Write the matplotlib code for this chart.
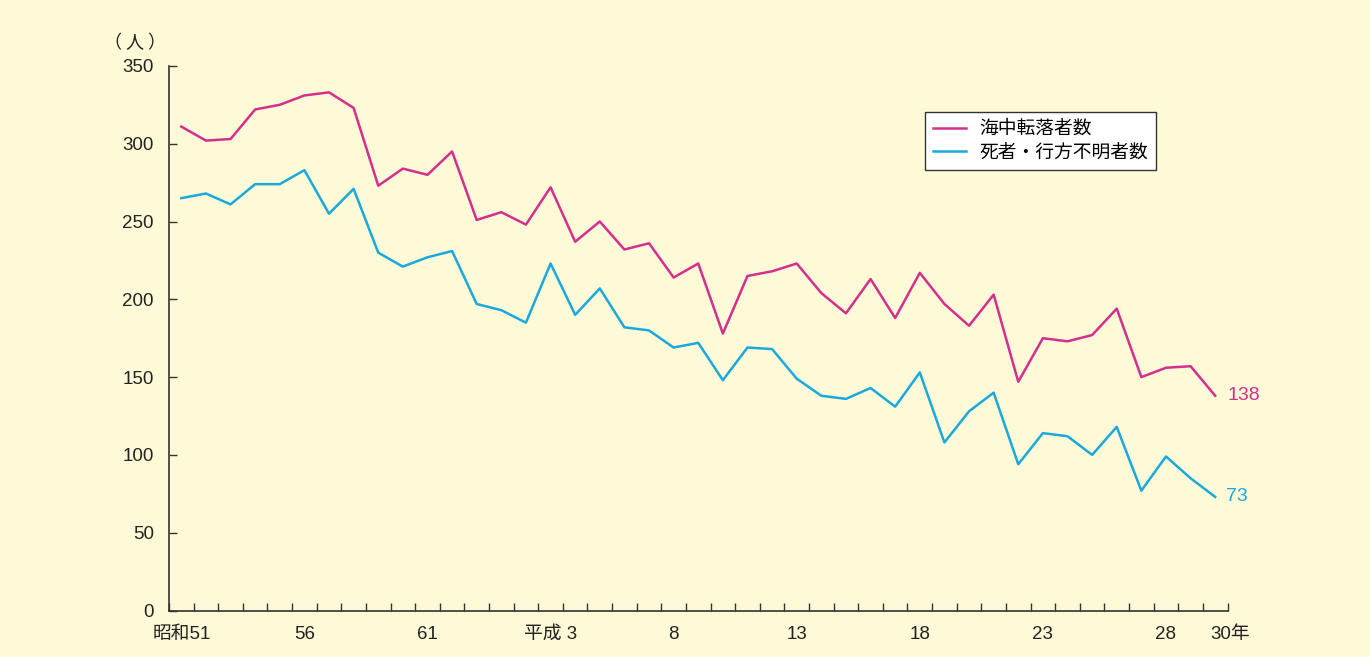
import matplotlib.pyplot as plt
import matplotlib.transforms as mtransforms
import numpy as np

plt.rcParams['font.family'] = ['Liberation Sans', 'Noto Sans CJK JP', 'DejaVu Sans']

# 昭和51年 (1976) - 平成30年 (2018)
years = list(range(1976, 2019))
fell_overboard = [311, 302, 303, 322, 325, 331, 333, 323, 273, 284, 280, 295, 251, 256,
                  248, 272, 237, 250, 232, 236, 214, 223, 178, 215, 218, 223, 204, 191,
                  213, 188, 217, 197, 183, 203, 147, 175, 173, 177, 194, 150, 156, 157, 138]
dead_missing = [265, 268, 261, 274, 274, 283, 255, 271, 230, 221, 227, 231, 197, 193,
                185, 223, 190, 207, 182, 180, 169, 172, 148, 169, 168, 149, 138, 136,
                143, 131, 153, 108, 128, 140, 94, 114, 112, 100, 118, 77, 99, 85, 73]
tick_years = [1976, 1981, 1986, 1991, 1996, 2001, 2006, 2011, 2016, 2018]
tick_labels = ["昭和51", "56", "61", "平成 3", "8", "13", "18", "23", "28", "30年"]

pink = "#D52F8E"
blue = "#19A9DF"
bg = "#FEF9D6"

fig = plt.figure(figsize=(13.7, 6.57), dpi=100, facecolor=bg)
ax = fig.add_axes([169 / 1370, 46.5 / 657, 1058.5 / 1370, 544.6 / 657])
ax.set_facecolor(bg)

x = np.arange(len(years))
ax.plot(x, fell_overboard, color=pink, lw=1.8, label="海中転落者数")
ax.plot(x, dead_missing, color=blue, lw=1.8, label="死者・行方不明者数")

ax.text(x[-1] + 0.5, fell_overboard[-1], str(fell_overboard[-1]), color=pink,
        fontsize=14, va="center", ha="left")
ax.text(x[-1] + 0.45, dead_missing[-1], str(dead_missing[-1]), color=blue,
        fontsize=14, va="center", ha="left")

ax.set_xlim(-0.5, len(years) - 0.5)
ax.set_ylim(0, 350)
ax.set_yticks(range(0, 351, 50))

pos = [years.index(y) for y in tick_years]
ax.set_xticks(pos)
ax.set_xticklabels(tick_labels)
ax.set_xticks(np.arange(-0.5, len(years)), minor=True)
ax.tick_params(axis="x", which="major", length=0, pad=11, labelsize=13.5, colors="#222")
ax.tick_params(axis="x", which="minor", direction="in", length=6, width=1, color="#333")
ax.tick_params(axis="y", direction="in", length=6, width=1, color="#333", pad=11,
               labelsize=13.5, labelcolor="#222")

lab = ax.get_xticklabels()[-1]
lab.set_horizontalalignment("left")
lab.set_transform(lab.get_transform() + mtransforms.ScaledTranslation(-5 / 100, 0, fig.dpi_scale_trans))

for s in ["top", "right"]:
    ax.spines[s].set_visible(False)
for s in ["left", "bottom"]:
    ax.spines[s].set_color("#333")
    ax.spines[s].set_linewidth(1.2)

fig.text(135 / 1370, 1 - 43 / 657, "（ 人 ）", fontsize=13, ha="center", va="center",
         color="#222", family=["Noto Sans CJK JP"])

leg = ax.legend(loc="upper left", bbox_to_anchor=(0.714, 0.915), fontsize=13.5,
                handlelength=1.75, frameon=True, fancybox=False, borderpad=0.45,
                labelspacing=0.35, handletextpad=0.7, borderaxespad=0)
leg.get_frame().set_edgecolor("#333")
leg.get_frame().set_facecolor("white")
leg.get_frame().set_alpha(1)
leg.get_frame().set_linewidth(1)

fig.savefig("out.png", dpi=100, facecolor=bg)
